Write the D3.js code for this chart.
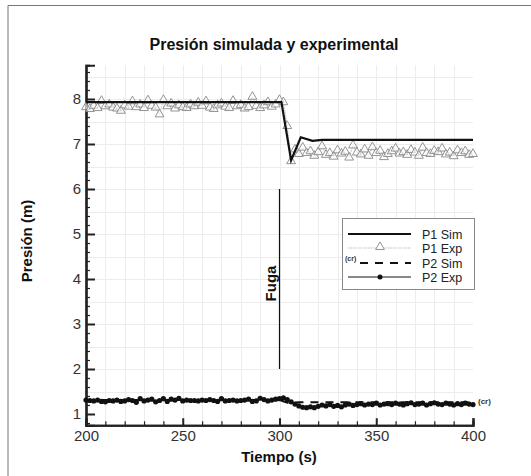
<!DOCTYPE html>
<html>
<head>
<meta charset="utf-8">
<script src="https://cdn.jsdelivr.net/npm/d3@7"></script>
<style>
    body { margin: 0; background: #fff; }
    svg text { font-family: "Liberation Sans", Arial, sans-serif; }
</style>
</head>
<body>
<div id="chart"></div>
<script>
// Data
const titleText = 'Presión simulada y experimental';
const xTicks = [200, 250, 300, 350, 400];
const yTicks = [1, 2, 3, 4, 5, 6, 7, 8];
const legendLabels = ['P1 Sim', 'P1 Exp', 'P2 Sim', 'P2 Exp'];

// Simulated series (piecewise)
const p1SimTime = [200, 301, 306, 311, 317, 322, 400];
const p1SimValue = [7.93, 7.93, 6.64, 7.15, 7.07, 7.09, 7.09];
const p2SimTime = [200, 300, 305, 310, 400];
const p2SimValue = [1.31, 1.31, 1.24, 1.26, 1.26];

// Experimental series, one sample every 2 s from 200 to 400
const expTime = d3.range(200, 401, 2);
const p1ExpValue = [
    7.82, 7.78, 7.85, 7.80, 7.96, 7.84, 7.88, 7.81, 7.79, 7.74,
    7.86, 7.83, 7.95, 7.82, 7.88, 7.80, 7.97, 7.85, 7.81, 7.66,
    7.98, 7.84, 7.90, 7.79, 7.86, 7.82, 7.80, 7.88, 7.84, 7.92,
    7.85, 7.95, 7.81, 7.78, 7.86, 7.90, 7.83, 7.80, 7.96, 7.84,
    7.87, 7.79, 7.82, 8.05, 7.85, 7.80, 7.86, 7.93, 7.83, 7.88,
    7.98, 7.93, 7.40, 6.62, 6.88, 6.78, 6.92, 6.80, 6.84, 6.74,
    6.82, 6.95, 6.76, 6.80, 6.72, 6.86, 6.79, 6.83, 6.70, 6.97,
    6.81, 6.77, 6.88, 6.74, 6.93, 6.80, 6.85, 6.71, 6.78, 6.84,
    6.90, 6.79, 6.82, 6.76, 6.87, 6.81, 6.74, 6.92, 6.80, 6.78,
    6.85, 6.82, 6.90, 6.77, 6.81, 6.73, 6.86, 6.80, 6.84, 6.76,
    6.78
];
const p2ExpValue = [
    1.31, 1.30, 1.29, 1.31, 1.28, 1.27, 1.30, 1.29, 1.31, 1.28,
    1.29, 1.32, 1.30, 1.26, 1.34, 1.29, 1.31, 1.33, 1.27, 1.30,
    1.34, 1.28, 1.33, 1.31, 1.35, 1.29, 1.31, 1.30, 1.30, 1.29,
    1.31, 1.30, 1.32, 1.30, 1.28, 1.34, 1.29, 1.30, 1.31, 1.29,
    1.30, 1.31, 1.33, 1.28, 1.29, 1.35, 1.32, 1.29, 1.31, 1.33,
    1.34, 1.36, 1.32, 1.27, 1.22, 1.18, 1.15, 1.14, 1.16, 1.14,
    1.17, 1.20, 1.18, 1.21, 1.17, 1.19, 1.16, 1.20, 1.22, 1.19,
    1.21, 1.23, 1.20, 1.22, 1.21, 1.24, 1.20, 1.22, 1.23, 1.21,
    1.24, 1.22, 1.20, 1.23, 1.25, 1.21, 1.22, 1.24, 1.20, 1.23,
    1.25, 1.22, 1.21, 1.24, 1.22, 1.20, 1.23, 1.21, 1.24, 1.22,
    1.21
];

// Leak marker ("Fuga") at t = 300, spanning 2..6 m
const leakTime = 300;
const leakRange = [2, 6];

const width = 531, height = 476;
const svg = d3.select('#chart').append('svg')
    .attr('width', width)
    .attr('height', height);

// Frame (top and left edges only, as in the original)
svg.append('path')
    .attr('d', `M8,${height} V5.5 H${width}`)
    .attr('fill', 'none')
    .attr('stroke', '#777')
    .attr('stroke-width', 1);

const x = d3.scaleLinear().domain([200, 400]).range([86, 473]);
const y = d3.scaleLinear().domain([0.75, 8.75]).range([425.25, 65.25]);

// Title
svg.append('text')
    .attr('x', 274).attr('y', 50)
    .attr('text-anchor', 'middle')
    .attr('font-size', 16).attr('font-weight', 'bold')
    .attr('fill', '#111')
    .text(titleText);

// Faint grid
const grid = svg.append('g').attr('stroke', '#ececec').attr('stroke-width', 1);
grid.selectAll('line.v')
    .data(d3.range(210, 400, 10))
    .enter().append('line')
    .attr('x1', d => Math.round(x(d)) + 0.5).attr('x2', d => Math.round(x(d)) + 0.5)
    .attr('y1', y.range()[1]).attr('y2', y.range()[0]);
grid.selectAll('line.h')
    .data(d3.range(1.5, 8.6, 0.5))
    .enter().append('line')
    .attr('y1', d => Math.round(y(d)) + 0.5).attr('y2', d => Math.round(y(d)) + 0.5)
    .attr('x1', x.range()[0]).attr('x2', x.range()[1]);

// Axes: ticks point inward
const xAxis = d3.axisBottom(x).tickValues(xTicks).tickSize(-7).tickPadding(5);
const xMinor = d3.axisBottom(x).tickValues(d3.range(200, 401, 10).filter(d => d % 50)).tickSize(-4).tickFormat('');
const yAxis = d3.axisLeft(y).tickValues(yTicks).tickSize(-9).tickPadding(5);
const yMinor = d3.axisLeft(y).tickValues(d3.range(0.8, 8.7, 0.2).filter(d => Math.abs(d - Math.round(d)) > 0.05)).tickSize(-4).tickFormat('');

function styleAxis(g) {
    g.select('.domain').attr('stroke', '#222').attr('stroke-width', 2.2);
    g.selectAll('.tick line').attr('stroke', '#222').attr('stroke-width', 2);
    g.selectAll('.tick text')
        .attr('font-size', 15)
        .attr('fill', '#333')
        .attr('font-family', '"Liberation Sans", Arial, sans-serif');
}

svg.append('g').attr('transform', `translate(0,${y.range()[0]})`).call(xMinor).call(styleAxis)
    .selectAll('.tick line').attr('stroke-width', 1.2);
svg.append('g').attr('transform', `translate(${x.range()[0]},0)`).call(yMinor).call(styleAxis)
    .selectAll('.tick line').attr('stroke-width', 1.2);
svg.append('g').attr('transform', `translate(0,${y.range()[0]})`).call(xAxis).call(styleAxis);
svg.append('g').attr('transform', `translate(${x.range()[0]},0)`).call(yAxis).call(styleAxis);

// Axis titles
svg.append('text')
    .attr('x', 279).attr('y', 462)
    .attr('text-anchor', 'middle')
    .attr('font-size', 15).attr('font-weight', 'bold')
    .attr('fill', '#111')
    .text('Tiempo (s)');
svg.append('text')
    .attr('transform', 'translate(32,241) rotate(-90)')
    .attr('text-anchor', 'middle')
    .attr('font-size', 15).attr('font-weight', 'bold')
    .attr('fill', '#111')
    .text('Presión (m)');

const line = d3.line().x(d => x(d[0])).y(d => y(d[1]));
const p1Exp = expTime.map((t, i) => [t, p1ExpValue[i]]);
const p2Exp = expTime.map((t, i) => [t, p2ExpValue[i]]);
const p1Sim = p1SimTime.map((t, i) => [t, p1SimValue[i]]);
const p2Sim = p2SimTime.map((t, i) => [t, p2SimValue[i]]);

const triangle = d3.symbol().type(d3.symbolTriangle).size(34);

// P1 Exp: light dotted line with hollow triangles
svg.append('path')
    .datum(p1Exp)
    .attr('d', line)
    .attr('fill', 'none')
    .attr('stroke', '#bbb')
    .attr('stroke-width', 1)
    .attr('stroke-dasharray', '1.5,1');
svg.append('g').selectAll('path')
    .data(p1Exp)
    .enter().append('path')
    .attr('d', triangle)
    .attr('transform', d => `translate(${x(d[0])},${y(d[1])})`)
    .attr('fill', '#fff')
    .attr('fill-opacity', 0.6)
    .attr('stroke', '#888')
    .attr('stroke-width', 0.9);

// P1 Sim
svg.append('path')
    .datum(p1Sim)
    .attr('d', line)
    .attr('fill', 'none')
    .attr('stroke', '#111')
    .attr('stroke-width', 2.2);

// P2 Sim (dashed)
svg.append('path')
    .datum(p2Sim)
    .attr('d', line)
    .attr('fill', 'none')
    .attr('stroke', '#111')
    .attr('stroke-width', 2)
    .attr('stroke-dasharray', '8,7');

// P2 Exp: thin line with dots
svg.append('path')
    .datum(p2Exp)
    .attr('d', line)
    .attr('fill', 'none')
    .attr('stroke', '#111')
    .attr('stroke-width', 1.4);
svg.append('g').selectAll('circle')
    .data(p2Exp)
    .enter().append('circle')
    .attr('cx', d => x(d[0]))
    .attr('cy', d => y(d[1]))
    .attr('r', 2.6)
    .attr('fill', '#111');

// (cr) tag at the end of P2 Sim
svg.append('text')
    .attr('x', x(400) + 5).attr('y', y(p2SimValue[p2SimValue.length - 1]) + 2)
    .attr('font-size', 8).attr('font-weight', 'bold')
    .attr('fill', '#333')
    .text('(cr)');

// Leak marker
svg.append('line')
    .attr('x1', x(leakTime)).attr('x2', x(leakTime))
    .attr('y1', y(leakRange[1])).attr('y2', y(leakRange[0]))
    .attr('stroke', '#111').attr('stroke-width', 1.2);
svg.append('text')
    .attr('transform', `translate(${x(leakTime) - 4},${y(3.9)}) rotate(-90)`)
    .attr('text-anchor', 'middle')
    .attr('font-size', 15).attr('font-weight', 'bold')
    .attr('fill', '#111')
    .text('Fuga');

// Legend
const legend = svg.append('g').attr('transform', 'translate(342,218)');
legend.append('rect')
    .attr('x', 0.5).attr('y', 0.5)
    .attr('width', 132).attr('height', 71)
    .attr('fill', '#fff')
    .attr('stroke', '#888');

const rowY = [16, 30, 45, 59];
legendLabels.forEach((label, i) => {
    const row = legend.append('g').attr('transform', `translate(0,${rowY[i]})`);
    const seg = row.append('line')
        .attr('x1', 6).attr('x2', 69)
        .attr('y1', 0).attr('y2', 0);
    if (i === 0) {
        seg.attr('stroke', '#111').attr('stroke-width', 2.2);
    } else if (i === 1) {
        seg.attr('stroke', '#bbb').attr('stroke-width', 1).attr('stroke-dasharray', '1.5,1');
        row.append('path')
            .attr('d', triangle)
            .attr('transform', 'translate(38,-1)')
            .attr('fill', '#fff')
            .attr('stroke', '#888')
            .attr('stroke-width', 0.9);
    } else if (i === 2) {
        seg.attr('x1', 18).attr('stroke', '#111').attr('stroke-width', 2).attr('stroke-dasharray', '8,7');
        row.append('text')
            .attr('x', 3).attr('y', -2)
            .attr('font-size', 7).attr('font-weight', 'bold')
            .attr('fill', '#333')
            .text('(cr)');
    } else {
        seg.attr('stroke', '#111').attr('stroke-width', 1);
        row.append('circle').attr('cx', 38).attr('cy', 0).attr('r', 2.5).attr('fill', '#111');
    }
    row.append('text')
        .attr('x', 80).attr('y', 4.5)
        .attr('font-size', 12.5)
        .attr('fill', '#222')
        .text(label);
});
</script>
</body>
</html>
